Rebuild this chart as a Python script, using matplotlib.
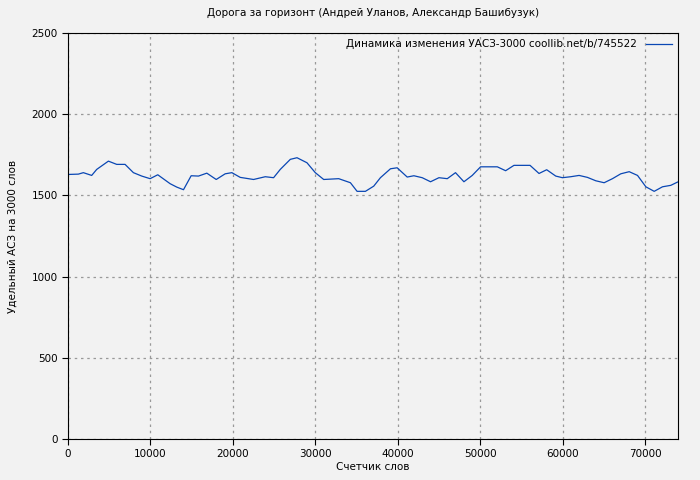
import matplotlib
matplotlib.use("Agg")
import matplotlib.pyplot as plt

words = [0,1256,1862,2874,3482,4900,5910,6923,7935,8948,9960,10890,12390,13200,14010,14940,15830,16840,17980,19070,19880,20890,22510,23930,24940,25750,26970,27780,28990,30000,31020,32840,34260,35070,36080,37090,37900,39120,39930,41150,41960,42970,43980,45000,46010,47010,48030,49040,50050,52080,53090,54100,56050,57140,58070,59170,59980,60990,62000,63010,64030,65040,66050,67060,68080,69090,70100,71110,72120,73130,73940]
values = [1629,1631,1640,1623,1660,1711,1691,1691,1640,1619,1603,1627,1572,1551,1535,1621,1619,1637,1598,1633,1640,1611,1598,1615,1609,1660,1722,1732,1701,1640,1598,1603,1578,1525,1525,1557,1609,1664,1670,1613,1621,1609,1584,1609,1603,1640,1584,1623,1676,1676,1652,1685,1685,1635,1658,1619,1609,1615,1623,1611,1590,1578,1603,1633,1646,1623,1553,1525,1553,1562,1582]

fig = plt.figure(figsize=(7, 4.8), dpi=100)
fig.patch.set_facecolor('#f2f2f2')
ax = fig.add_axes([68/700, 41/480, (678-68)/700, (439-33)/480])
ax.set_facecolor('#f2f2f2')
ax.plot(words, values, color='#0a47b4', lw=0.9, label='Динамика изменения УАСЗ-3000 coollib.net/b/745522')
ax.set_xlim(0, 74000)
ax.set_ylim(0, 2500)
ax.set_xticks([0,10000,20000,30000,40000,50000,60000,70000])
ax.set_yticks([0,500,1000,1500,2000,2500])
ax.grid(True, color='#999999', linestyle=(0,(2,3)), lw=0.9)
ax.tick_params(labelsize=7.5, direction='out', length=4)
ax.set_xlabel('Счетчик слов', fontsize=7.5, labelpad=2)
ax.set_ylabel('Удельный АСЗ на 3000 слов', fontsize=7.5, labelpad=10)
ax.set_title('Дорога за горизонт (Андрей Уланов, Александр Башибузук)', fontsize=7.5, pad=12)
leg = ax.legend(loc='upper right', fontsize=7.5, frameon=False, markerfirst=False, handlelength=2.5, borderaxespad=0.2)
fig.savefig('out.png', dpi=100, facecolor=fig.get_facecolor())
